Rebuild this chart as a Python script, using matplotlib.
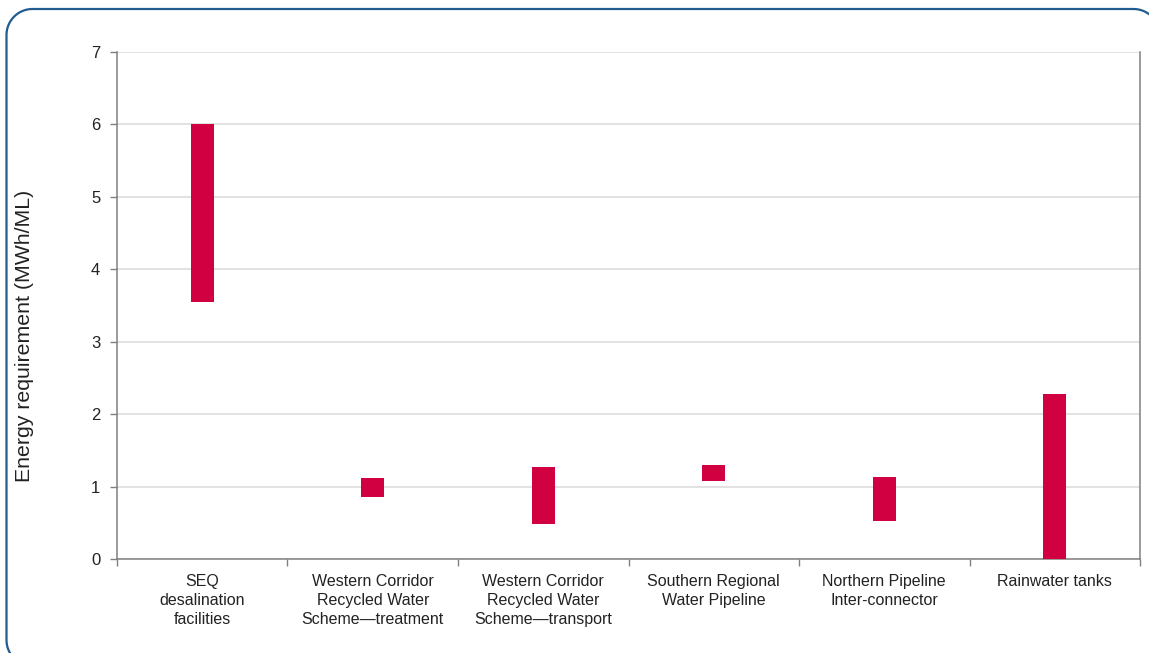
"""Energy requirement of water supply options"""
import numpy as np
import matplotlib.pyplot as plt
from matplotlib.patches import Polygon

categories = [
    "SEQ\ndesalination\nfacilities",
    "Western Corridor\nRecycled Water\nScheme\u2014treatment",
    "Western Corridor\nRecycled Water\nScheme\u2014transport",
    "Southern Regional\nWater Pipeline",
    "Northern Pipeline\nInter-connector",
    "Rainwater tanks",
]
low_values = [3.55, 0.86, 0.48, 1.08, 0.52, 0.0]
high_values = [6.0, 1.12, 1.27, 1.30, 1.13, 2.28]

plt.rcParams['font.family'] = ['Liberation Sans', 'DejaVu Sans']


def rounded_outline(x0, y0, x1, y1, r, n=24):
    """Points of a rounded rectangle, corners drawn as circle arcs"""
    pts = []
    corners = [(x1 - r, y1 - r, 0), (x0 + r, y1 - r, 90),
               (x0 + r, y0 + r, 180), (x1 - r, y0 + r, 270)]
    for cx, cy, start in corners:
        ang = np.radians(np.linspace(start, start + 90, n))
        pts.extend(zip(cx + r * np.cos(ang), cy + r * np.sin(ang)))
    return np.array(pts)


fig = plt.figure(figsize=(11.49, 6.53), dpi=100)
ax = fig.add_axes([0.1018, 0.1439, 0.8904, 0.7765])

# frame around the whole chart, in inches
frame = Polygon(rounded_outline(0.065, -0.13, 11.595, 6.44, 0.26),
                closed=True, transform=fig.dpi_scale_trans,
                fill=False, edgecolor="#215C8E", linewidth=1.6)
fig.patches.append(frame)

x = range(len(categories))
heights = [h - l for h, l in zip(high_values, low_values)]
ax.bar(x, heights, bottom=low_values, width=0.135, color="#D10040", zorder=3)

ax.set_xlim(-0.5, len(categories) - 0.5)
ax.set_ylim(0, 7)
ax.set_yticks(range(8))
ax.yaxis.grid(True, color="#DADADA", linewidth=1.1, zorder=0)

ax.set_xticks(list(x))
ax.set_xticklabels(categories, fontsize=11.5, color="#222222", linespacing=1.32,
                   va="top")
ax.set_xticks([i - 0.5 for i in range(len(categories) + 1)], minor=True)
ax.tick_params(axis="x", which="major", length=0, pad=11)
ax.tick_params(axis="x", which="minor", length=5, color="#808080", width=1)
ax.tick_params(axis="y", length=5, color="#808080", width=1, labelsize=12,
               labelcolor="#222222", pad=7)

for side in ("left", "right", "bottom"):
    ax.spines[side].set_color("#808080")
    ax.spines[side].set_linewidth(1.1)
ax.spines["top"].set_visible(False)

fig.text(25 / 1149, 0.486, "Energy requirement (MWh/ML)", rotation=90,
         fontsize=15.3, color="#222222", ha="center", va="center")

fig.savefig("out.png", dpi=100)
